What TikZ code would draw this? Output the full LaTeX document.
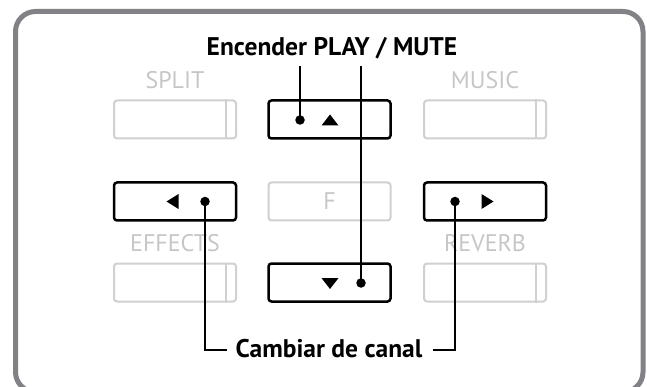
\documentclass[tikz,border=0pt]{standalone}
\usepackage{fontspec}
\setmainfont{PT Sans}
\begin{document}
\begin{tikzpicture}[x=1pt,y=-1pt,
  frame/.style={draw=framegray,line width=5pt,rounded corners=20pt},
  onbtn/.style={draw=black,line width=2.5pt,rounded corners=3pt,minimum width=122pt,minimum height=38pt,inner sep=0pt},
  offbtn/.style={draw=offgray,line width=2pt,rounded corners=3pt,minimum width=122pt,minimum height=38pt,inner sep=0pt},
  glabel/.style={text=labgray,font=\fontsize{24}{26}\selectfont,inner sep=0pt},
  title/.style={font=\fontsize{25.5}{28}\selectfont\bfseries,inner sep=0pt},
  pin/.style={circle,fill=black,inner sep=0pt,minimum size=9.5pt},
  lead/.style={draw=black,line width=1.1pt}
]
\definecolor{framegray}{HTML}{828286}
\definecolor{offgray}{HTML}{D0D0D0}
\definecolor{labgray}{HTML}{C6C6C6}
\useasboundingbox (0,0) rectangle (647,387);
\draw[frame] (15.5,11.5) rectangle (643,392);

% gray buttons
\node[offbtn] (split) at (175,119.5) {};
\draw[offgray,line width=2pt] ([xshift=-11pt]split.north east) -- ([xshift=-11pt]split.south east);
\node[offbtn] (music) at (485,119.5) {};
\draw[offgray,line width=2pt] ([xshift=-11pt]music.north east) -- ([xshift=-11pt]music.south east);
\node[offbtn] (effb) at (175,282.5) {};
\draw[offgray,line width=2pt] ([xshift=-11pt]effb.north east) -- ([xshift=-11pt]effb.south east);
\node[offbtn] (revb) at (485,282.5) {};
\draw[offgray,line width=2pt] ([xshift=-11pt]revb.north east) -- ([xshift=-11pt]revb.south east);
\node[offbtn] (fbtn) at (329.5,201.5) {};
\node[glabel] (f) at (329.5,201.5) {F};

\node[glabel] (lsplit) at (175,80) {SPLIT};
\node[glabel] (lmusic) at (485,80) {MUSIC};
\node[glabel] (leff) at (175,243) {EFFECTS};
\node[glabel] (lrev) at (485,243) {REVERB};

% active buttons
\node[onbtn] (up) at (329.5,119.5) {};
\node[onbtn] (left) at (175,201.5) {};
\node[onbtn] (right) at (485,201.5) {};
\node[onbtn] (down) at (329.5,282.5) {};

% triangles
\fill (321.5,125.5) -- (338.5,125.5) -- (330,114.5) -- cycle;
\fill (321.5,278) -- (338.5,278) -- (330,289) -- cycle;
\fill (178.5,194) -- (178.5,209) -- (166.5,201.5) -- cycle;
\fill (481.5,194) -- (481.5,209) -- (493.5,201.5) -- cycle;

% pins
\node[pin] (pup) at (300,120) {};
\node[pin] (pdown) at (361,283) {};
\node[pin] (pleft) at (205,201.5) {};
\node[pin] (pright) at (455,201.5) {};

% titles
\node[title] (enc) at (332,48) {Encender PLAY / MUTE};
\node[title] (cam) at (329,349) {Cambiar de canal};

\coordinate (tu) at (300,66);
\coordinate (td) at (361,66);
\coordinate (cl) at (227,350);
\coordinate (cr) at (433,350);

\draw[lead] (pup.center) -- (tu);
\draw[lead] (pdown.center) -- (td);
\draw[lead] (pleft.center) |- (cl);
\draw[lead] (pright.center) |- (cr);
\end{tikzpicture}
\end{document}
